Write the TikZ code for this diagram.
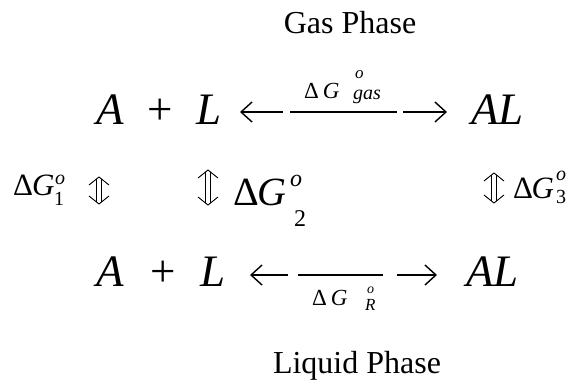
\documentclass[tikz,border=0pt]{standalone}
\usepackage{fontspec}
\setmainfont{Liberation Serif}
\usetikzlibrary{arrows.meta}
\tikzset{
  every node/.style={inner sep=0pt, anchor=base west},
  chem/.style={font=\fontsize{45}{50}\selectfont\itshape},
  ttl/.style={anchor=base, font=\fontsize{32}{36}\selectfont},
  dgsmall/.style={font=\fontsize{31}{34}\selectfont},
  dgbig/.style={font=\fontsize{40}{43}\selectfont},
  scr/.style={font=\fontsize{20}{22}\selectfont\itshape},
  scrup/.style={font=\fontsize{20}{22}\selectfont},
  lbl/.style={font=\fontsize{23}{26}\selectfont},
  lblscr/.style={font=\fontsize{17}{19}\selectfont\itshape},
  hline/.style={line width=1.4pt},
  ltip/.style={hline, {Straight Barb[length=11pt,width=20pt]}-},
  rtip/.style={hline, -{Straight Barb[length=11pt,width=20pt]}},
  pics/updown/.style={code={
    \draw[line width=0.9pt, line join=miter] (-10,8) -- (0,0) -- (10,8);
    \draw[line width=0.9pt, line join=miter] (-10,#1-8) -- (0,#1) -- (10,#1-8);
    \draw[line width=0.9pt] (-2.4,1.9) -- (-2.4,#1-1.9) (2.4,1.9) -- (2.4,#1-1.9);
  }}
}
\begin{document}
\begin{tikzpicture}[x=1pt,y=-1pt]
\useasboundingbox (0,0) rectangle (583,383);
% titles
\node[ttl] (gas) at (350,33) {Gas Phase};
\node[ttl] (liq) at (357,373) {Liquid Phase};
% top row
\node[chem] (A1) at (96,124) {A};
\node[chem,anchor=base] (p1) at (160,124) {\upshape +};
\node[chem] (L1) at (196,124) {L};
\node[chem] (AL1) at (471,124) {AL};
\coordinate (t1) at (240,112);
\coordinate (t1a) at (283,112);
\coordinate (t1b) at (290,112);
\coordinate (t1c) at (397,112);
\coordinate (t1d) at (403,112);
\coordinate (t2) at (447,112);
\draw[ltip] (t1) -- (t1a);
\draw[hline] (t1b) -- (t1c);
\draw[rtip] (t1d) -- (t2);
\node[lbl] (lg) at (304,98) {Δ\,\textit{G}};
\node[lblscr] (lgo) at (355,78) {o};
\node[lblscr,font=\fontsize{20}{22}\selectfont\itshape] (lgs) at (353,99) {gas};
% bottom row
\node[chem] (A2) at (96,286) {A};
\node[chem,anchor=base] (p2) at (163,286) {\upshape +};
\node[chem] (L2) at (200,286) {L};
\node[chem] (AL2) at (466,286) {AL};
\coordinate (b1) at (250,275);
\coordinate (b1a) at (288,275);
\coordinate (b1b) at (298,275);
\coordinate (b1c) at (383,275);
\coordinate (b1d) at (397,275);
\coordinate (b2) at (437,275);
\draw[ltip] (b1) -- (b1a);
\draw[hline] (b1b) -- (b1c);
\draw[rtip] (b1d) -- (b2);
\node[lbl] (lr) at (312,305) {Δ\,\textit{G}};
\node[lblscr,font=\fontsize{14}{16}\selectfont\itshape] (lro) at (367,293) {o};
\node[lblscr] (lrs) at (365,310) {R};
% Delta G1
\node[dgsmall] (g1) at (13,195) {Δ\kern-1pt\textit{G}};
\node[scr] (g1o) at (55,184) {o};
\node[scrup] (g1s) at (54,205) {1};
\pic (u1) at (99,177) {updown=27};
% Delta G2
\pic (u2) at (208,170) {updown=35};
\node[dgbig] (g2) at (233,205) {Δ\kern-1pt\textit{G}};
\node[scr,font=\fontsize{24}{26}\selectfont\itshape] (g2o) at (290,186) {o};
\node[scrup,font=\fontsize{24}{26}\selectfont] (g2s) at (294,226) {2};
% Delta G3
\pic (u3) at (494,173) {updown=30};
\node[dgsmall] (g3) at (513,198) {Δ\kern-1.5pt\textit{G}};
\node[scr] (g3o) at (556,180) {o};
\node[scrup] (g3s) at (556,203) {3};
\end{tikzpicture}
\end{document}
